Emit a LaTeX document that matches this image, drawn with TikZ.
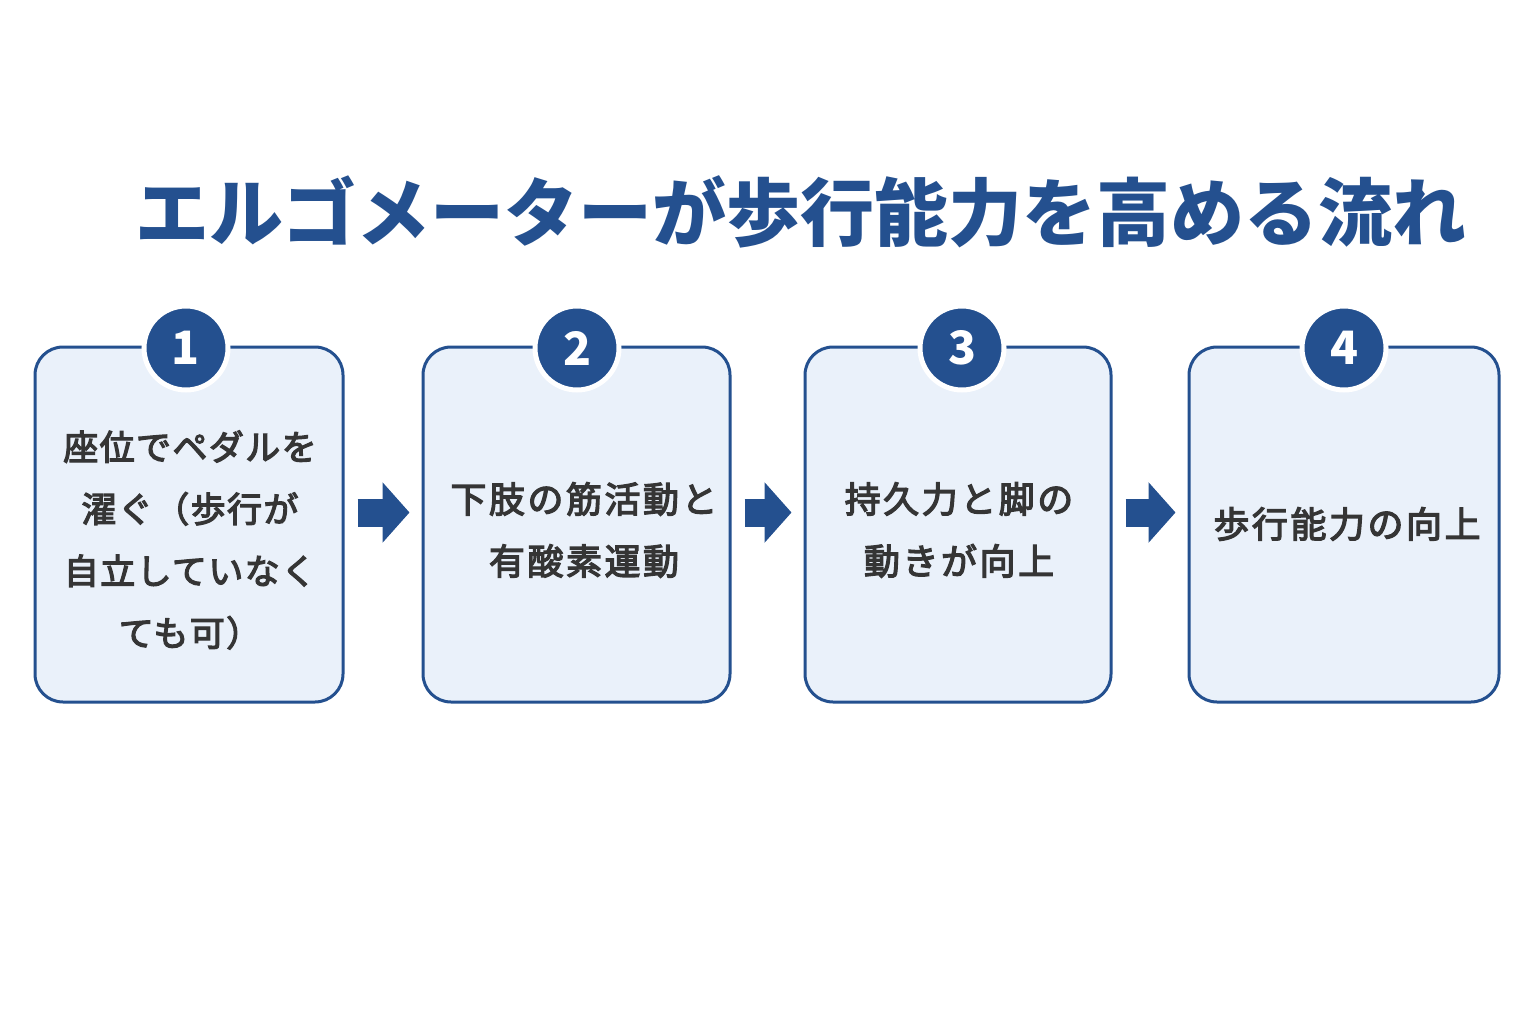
\documentclass[tikz,border=0pt]{standalone}
\usepackage{fontspec}
\newfontfamily\cjk{Noto Sans CJK JP}[LetterSpace=7,FakeBold=3.5]
\newfontfamily\cjkn{Noto Sans CJK JP}[LetterSpace=4,FakeBold=3.5]
\newfontfamily\cjkt{Noto Sans CJK JP}
\usetikzlibrary{arrows.meta,calc}
\definecolor{navy}{HTML}{24508F}
\definecolor{boxfill}{HTML}{EAF1FA}
\definecolor{txt}{HTML}{353535}
\tikzset{
  stepbox/.style={draw=navy, line width=3pt, fill=boxfill, rounded corners=28pt,
    minimum height=355pt, inner sep=0pt},
  numdot/.style={circle, fill=navy, draw=white, line width=5pt, minimum size=84pt,
    inner sep=0pt, text=white, font=\cjkt\bfseries\fontsize{46}{46}\selectfont},
  boxtext/.style={align=center, text=txt, font=\cjk\fontsize{36}{62}\selectfont},
  flow/.style={navy, line width=28pt, -{Triangle[length=27pt,width=59pt]},
    shorten <=13pt, shorten >=12pt}
}
\begin{document}
\begin{tikzpicture}[x=1pt,y=-1pt]
\useasboundingbox (0,0) rectangle (1536,1024);
\fill[white] (0,0) rectangle (1536,1024);

\node[text=navy, font=\cjkt\bfseries\fontsize{74}{74}\selectfont, anchor=center] (title) at (801,212) {エルゴメーターが歩行能力を高める流れ};

\node[stepbox, minimum width=308pt] (b1) at (189,524.5) {};
\node[stepbox, minimum width=307pt] (b2) at (576.5,524.5) {};
\node[stepbox, minimum width=306pt] (b3) at (958,524.5) {};
\node[stepbox, minimum width=310pt] (b4) at (1344,524.5) {};

\node[numdot] (n1) at (186,348) {1};
\node[numdot] (n2) at (577,348) {2};
\node[numdot] (n3) at (962,348) {3};
\node[numdot] (n4) at (1344,348) {4};

\node[boxtext, font=\cjkn\fontsize{35}{62}\selectfont] (t1) at (190,540) {座位でペダルを\\濯ぐ（歩行が\\自立していなく\\ても可）};
\node[boxtext] (t2) at (584,530) {下肢の筋活動と\\有酸素運動};
\node[boxtext] (t3) at (959,530) {持久力と脚の\\動きが向上};
\node[boxtext] (t4) at (1347,524) {歩行能力の向上};

\draw[flow] ([yshift=12pt]b1.east) -- ([yshift=12pt]b2.west);
\draw[flow] ([yshift=12pt]b2.east) -- ([yshift=12pt]b3.west);
\draw[flow] ([yshift=12pt]b3.east) -- ([yshift=12pt]b4.west);
\end{tikzpicture}
\end{document}
